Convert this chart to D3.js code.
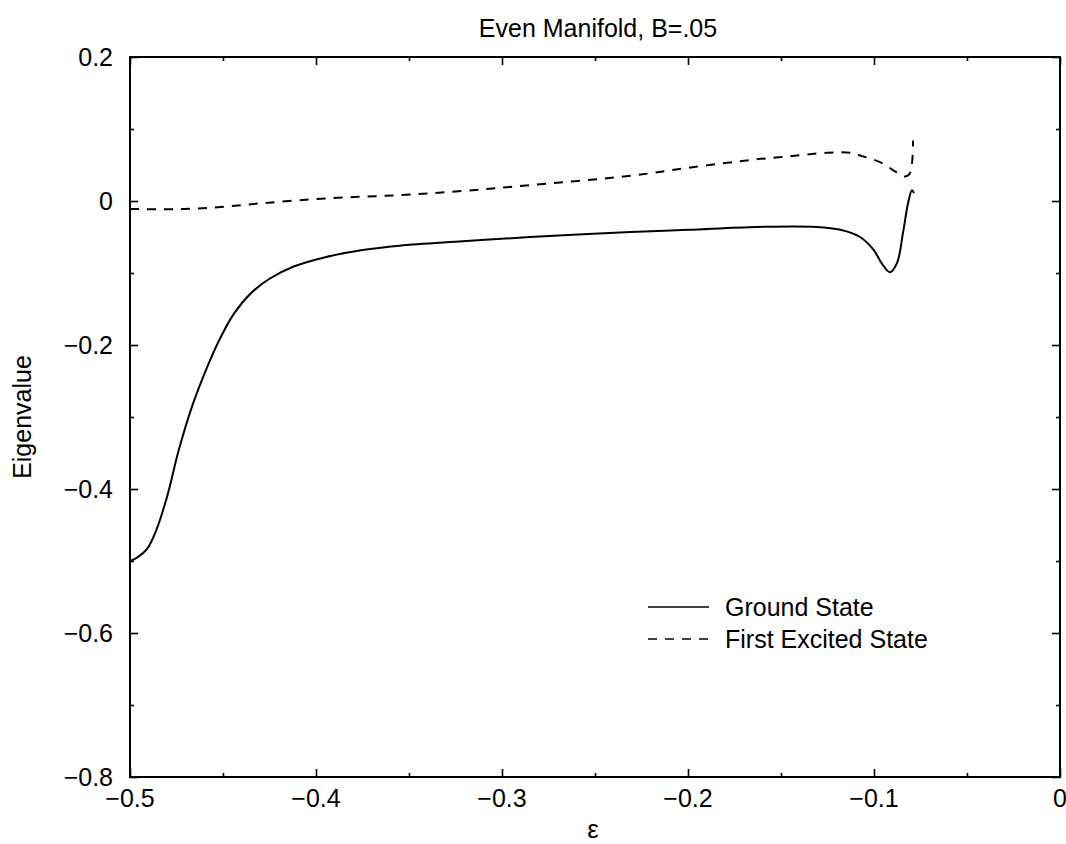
<!DOCTYPE html>
<html>
<head>
<meta charset="utf-8">
<script src="https://cdn.jsdelivr.net/npm/d3@7"></script>
<style>
  html, body { margin: 0; padding: 0; background: #fff; }
  svg { display: block; }
  text { font-family: "Liberation Sans", Arial, Helvetica, sans-serif; fill: #000; }
</style>
</head>
<body>
<svg id="chart" width="1066" height="844"></svg>
<script>
// Eigenvalue vs epsilon, even manifold, B = .05
const groundState = [
  [-0.5, -0.5], [-0.496, -0.495], [-0.491, -0.484], [-0.486, -0.458],
  [-0.480, -0.41], [-0.474, -0.348], [-0.467, -0.288], [-0.460, -0.240],
  [-0.452, -0.193], [-0.444, -0.156], [-0.435, -0.128], [-0.425, -0.108],
  [-0.412, -0.091], [-0.395, -0.078], [-0.375, -0.068], [-0.355, -0.062],
  [-0.321, -0.056], [-0.285, -0.050], [-0.231, -0.043], [-0.2, -0.040],
  [-0.163, -0.036], [-0.131, -0.036], [-0.118, -0.040], [-0.1075, -0.05],
  [-0.1005, -0.067], [-0.0952, -0.089], [-0.0914, -0.099], [-0.0876, -0.086],
  [-0.0844, -0.044], [-0.0817, -0.003], [-0.0796, 0.015], [-0.0785, 0.011]
];

const firstExcited = [
  [-0.5, -0.011], [-0.4785, -0.0115], [-0.4586, -0.0097], [-0.4285, -0.003],
  [-0.3925, 0.004], [-0.356, 0.008], [-0.321, 0.014], [-0.285, 0.022],
  [-0.231, 0.035], [-0.2, 0.046], [-0.163, 0.058], [-0.149, 0.061],
  [-0.1253, 0.067], [-0.1129, 0.067], [-0.1059, 0.062], [-0.0968, 0.054],
  [-0.0898, 0.043], [-0.0833, 0.034], [-0.0812, 0.0365], [-0.0796, 0.052],
  [-0.079, 0.084]
];

const xMajorTicks = [-0.5, -0.4, -0.3, -0.2, -0.1, 0];
const xMinorTicks = [-0.45, -0.35, -0.25, -0.15, -0.05];
const yMajorTicks = [0.2, 0, -0.2, -0.4, -0.6, -0.8];
const yMinorTicks = [0.1, -0.1, -0.3, -0.5, -0.7];

const seriesNames = ["Ground State", "First Excited State"];

const svg = d3.select("#chart");
const plotLeft = 130, plotRight = 1060, plotTop = 57, plotBottom = 777;

const x = d3.scaleLinear().domain([-0.5, 0]).range([plotLeft, plotRight]);
const y = d3.scaleLinear().domain([-0.8, 0.2]).range([plotBottom, plotTop]);

const fmt = d => d === 0 ? "0" : d3.format(".1f")(d).replace("-", "\u2212");

// inward ticks on all four sides
function tickGroup(axisFn, scale, ticks, size, transform) {
  const g = svg.append("g").attr("transform", transform)
    .call(axisFn(scale).tickValues(ticks).tickSize(size).tickFormat(""));
  g.select(".domain").remove();
  g.selectAll(".tick line").attr("stroke", "#000").attr("stroke-width", 1.6);
  return g;
}
tickGroup(d3.axisTop, x, xMajorTicks, 8, `translate(0,${plotBottom})`);
tickGroup(d3.axisTop, x, xMinorTicks, 4, `translate(0,${plotBottom})`);
tickGroup(d3.axisBottom, x, xMajorTicks, 8, `translate(0,${plotTop})`);
tickGroup(d3.axisBottom, x, xMinorTicks, 4, `translate(0,${plotTop})`);
tickGroup(d3.axisRight, y, yMajorTicks, 8, `translate(${plotLeft},0)`);
tickGroup(d3.axisRight, y, yMinorTicks, 4, `translate(${plotLeft},0)`);
tickGroup(d3.axisLeft, y, yMajorTicks, 8, `translate(${plotRight},0)`);
tickGroup(d3.axisLeft, y, yMinorTicks, 4, `translate(${plotRight},0)`);

// frame
svg.append("rect")
  .attr("x", plotLeft).attr("y", plotTop)
  .attr("width", plotRight - plotLeft).attr("height", plotBottom - plotTop)
  .attr("fill", "none").attr("stroke", "#000").attr("stroke-width", 2);

// tick labels
svg.append("g").selectAll("text").data(xMajorTicks).join("text")
  .attr("x", d => x(d)).attr("y", plotBottom + 30)
  .attr("text-anchor", "middle").attr("font-size", 25)
  .text(fmt);

svg.append("g").selectAll("text").data(yMajorTicks).join("text")
  .attr("x", plotLeft - 17).attr("y", d => y(d) + 9)
  .attr("text-anchor", "end").attr("font-size", 25)
  .text(fmt);

// titles
svg.append("text").attr("x", 598).attr("y", 37)
  .attr("text-anchor", "middle").attr("font-size", 25)
  .text("Even Manifold, B=.05");

svg.append("text").attr("x", 593).attr("y", 838)
  .attr("text-anchor", "middle").attr("font-size", 26)
  .text("\u03b5");

svg.append("text")
  .attr("transform", `translate(31,${(plotTop + plotBottom) / 2}) rotate(-90)`)
  .attr("text-anchor", "middle").attr("font-size", 25)
  .text("Eigenvalue");

// curves
const line = d3.line()
  .x(d => x(d[0])).y(d => y(d[1]))
  .curve(d3.curveCatmullRom.alpha(0.5));

svg.append("path").datum(groundState)
  .attr("d", line).attr("fill", "none")
  .attr("stroke", "#000").attr("stroke-width", 2);

svg.append("path").datum(firstExcited)
  .attr("d", line).attr("fill", "none")
  .attr("stroke", "#000").attr("stroke-width", 2)
  .attr("stroke-dasharray", "9,8");

// legend
const legend = svg.append("g");
const legendRows = [
  { name: seriesNames[0], dash: null, y: 607 },
  { name: seriesNames[1], dash: "9,8", y: 639 }
];
legendRows.forEach(r => {
  legend.append("line")
    .attr("x1", 648).attr("x2", 709).attr("y1", r.y).attr("y2", r.y)
    .attr("stroke", "#000").attr("stroke-width", 1.6)
    .attr("stroke-dasharray", r.dash);
  legend.append("text")
    .attr("x", 725).attr("y", r.y + 9)
    .attr("font-size", 25)
    .text(r.name);
});
</script>
</body>
</html>
